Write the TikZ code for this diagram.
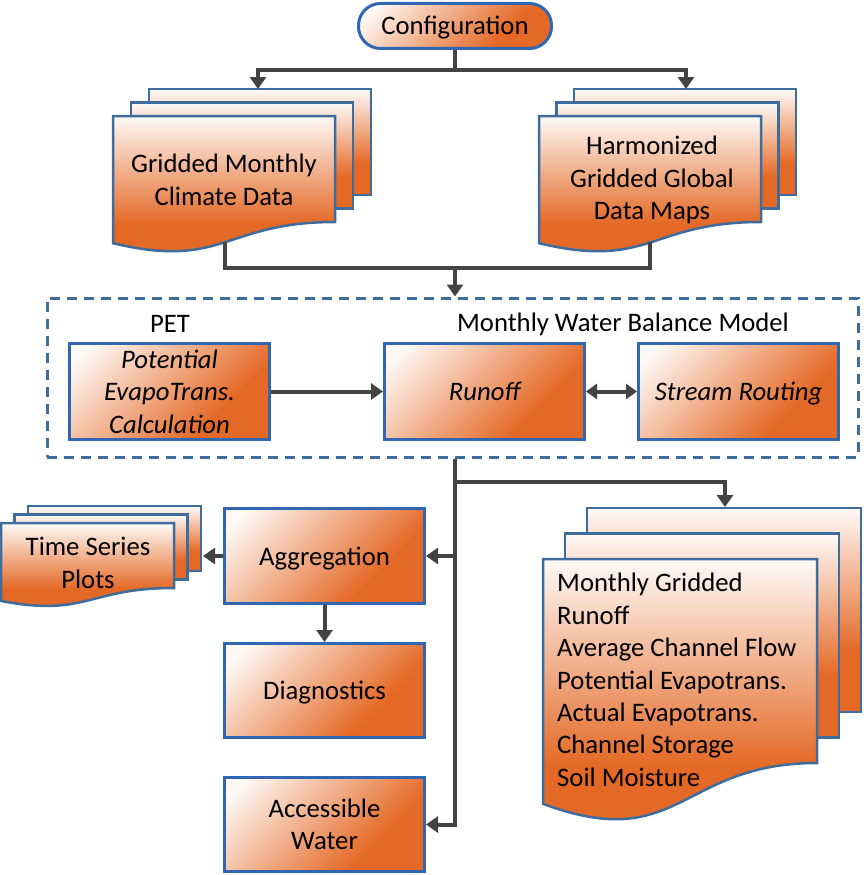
\documentclass[tikz,border=0pt]{standalone}
\usepackage{fontspec}
\setmainfont{Carlito}
\usetikzlibrary{arrows.meta}

\definecolor{orng}{RGB}{228,105,38}
\definecolor{lite}{RGB}{254,250,247}
\definecolor{boxedge}{RGB}{48,102,178}
\definecolor{docedge}{RGB}{62,108,156}
\definecolor{wirecol}{RGB}{67,67,67}

\pgfdeclareverticalshading{pagefill}{100bp}{color(0bp)=(orng); color(40bp)=(orng); color(75bp)=(lite); color(100bp)=(lite)}
\pgfdeclareverticalshading{procfill}{100bp}{color(0bp)=(orng); color(33bp)=(orng); color(80bp)=(lite); color(100bp)=(lite)}

\newcommand{\bigfont}{\fontsize{26.7}{32.4}\selectfont}

% one stack of three pages, front page top-left at (#1,#2)
\newcommand{\pagestack}[6]{%
  \foreach \k in {2,1}
    \path[page] ({#1+\k*#5},{#2-\k*#6}) rectangle ++(#3,#4);
  \path[page] (#1,#2) -- ({#1+#3},#2) -- ({#1+#3},{#2+#4})
    .. controls ({#1+#3/2},{#2+#4}) and ({#1+#3/2},{#2+1.45*#4}) .. (#1,{#2+1.2*#4}) -- cycle;
}

\tikzset{
  txt/.style = {font=\bigfont, inner sep=0pt, align=center},
  oneline/.style = {text height=19pt, text depth=1pt},
  proc/.style = {draw=boxedge, line width=3pt, shade, shading=procfill, shading angle=45,
    minimum width=200pt, minimum height=96pt, txt},
  page/.style = {draw=docedge, line width=2.5pt, shade, shading=pagefill},
  link/.style = {draw=wirecol, line width=4pt},
  flow/.style = {link, -{Triangle[length=12pt,width=16pt]}},
  both/.style = {link, {Triangle[length=11pt,width=15pt]}-{Triangle[length=11pt,width=15pt]}},
}

\begin{document}
\begin{tikzpicture}[x=1pt, y=-1pt]
		\useasboundingbox (0,0) rectangle (863,875);
		%%%%%%%%%%%%%
		\node[proc, oneline, rounded corners=22pt, minimum width=193pt, minimum height=45pt] (config) at (455,26) {Configuration};
		\pagestack{113}{116}{222}{106}{18}{13.5}
		\pagestack{539}{116}{222}{106}{17.5}{13.5}
		\node[txt] (gmcd) at (224,180) {Gridded Monthly\\Climate Data};
		\node[txt] (hgdm) at (652,180) {Harmonized\\Gridded Global\\Data Maps};
		\coordinate (gmcd-in) at (258,89); \coordinate (hgdm-in) at (686,89);
		\coordinate (gmcd-out) at (225,242); \coordinate (hgdm-out) at (650,242);
		%%%%%%%%%%%%%
		\node[draw=docedge, line width=3pt, dash pattern=on 10pt off 7pt,
			minimum width=811pt, minimum height=159pt] (wbm) at (452.5,377.5) {};
		\node[txt, oneline] (petlbl) at (170,323) {PET};
		\node[txt, oneline] (wbmlbl) at (623,322) {Monthly Water Balance Model};
		\node[proc, font=\bigfont\itshape] (pet) at (169.5,391.5) {Potential\\EvapoTrans.\\Calculation};
		\node[proc, oneline, font=\bigfont\itshape] (runoff) at (484.5,391.5) {Runoff};
		\node[proc, oneline, font=\bigfont\itshape] (routing) at (738.5,391.5) {Stream Routing};
		%%%%%%%%%%%%%
		\pagestack{1}{523}{173}{65}{13.5}{8.5}
		\pagestack{543}{559}{274}{204}{22}{25.5}
		\node[txt] (tsp) at (88,563) {Time Series\\Plots};
		\node[txt, align=left, anchor=west] (outputs) at (557,680) {Monthly Gridded\\Runoff\\Average Channel Flow\\Potential Evapotrans.\\Actual Evapotrans.\\Channel Storage\\Soil Moisture};
		\coordinate (tsp-in) at (203,556); \coordinate (outputs-in) at (725,507);
		\node[proc, oneline, minimum height=95pt] (aggr) at (324.5,556) {Aggregation};
		\node[proc, oneline, minimum height=94pt] (diag) at (324.5,690.5) {Diagnostics};
		\node[proc, minimum height=94pt] (access) at (324.5,824.5) {Accessible\\Water};
		%%%%%%%%%%%%%
		\coordinate (fork1) at (455,70); \coordinate (join1) at (455,268);
		\coordinate (drop) at (wbm.south -| join1); \coordinate (fork2) at (455,482);
		\draw[link] (config) -- (fork1);
		\draw[flow] (fork1) -| (gmcd-in); \draw[flow] (fork1) -| (hgdm-in);
		\draw[link] (gmcd-out) |- (join1) -| (hgdm-out);
		\draw[flow] (join1) -- (join1 |- wbm.north);
		\draw[flow] (pet) -- (runoff); \draw[both] (runoff) -- (routing);
		\draw[flow] (drop) |- (access);
		\draw[flow] (fork2) -| (outputs-in);
		\draw[flow] (fork2 |- aggr) -- (aggr);
		\draw[flow] (aggr) -- (tsp-in); \draw[flow] (aggr) -- (diag);
\end{tikzpicture}
\end{document}
